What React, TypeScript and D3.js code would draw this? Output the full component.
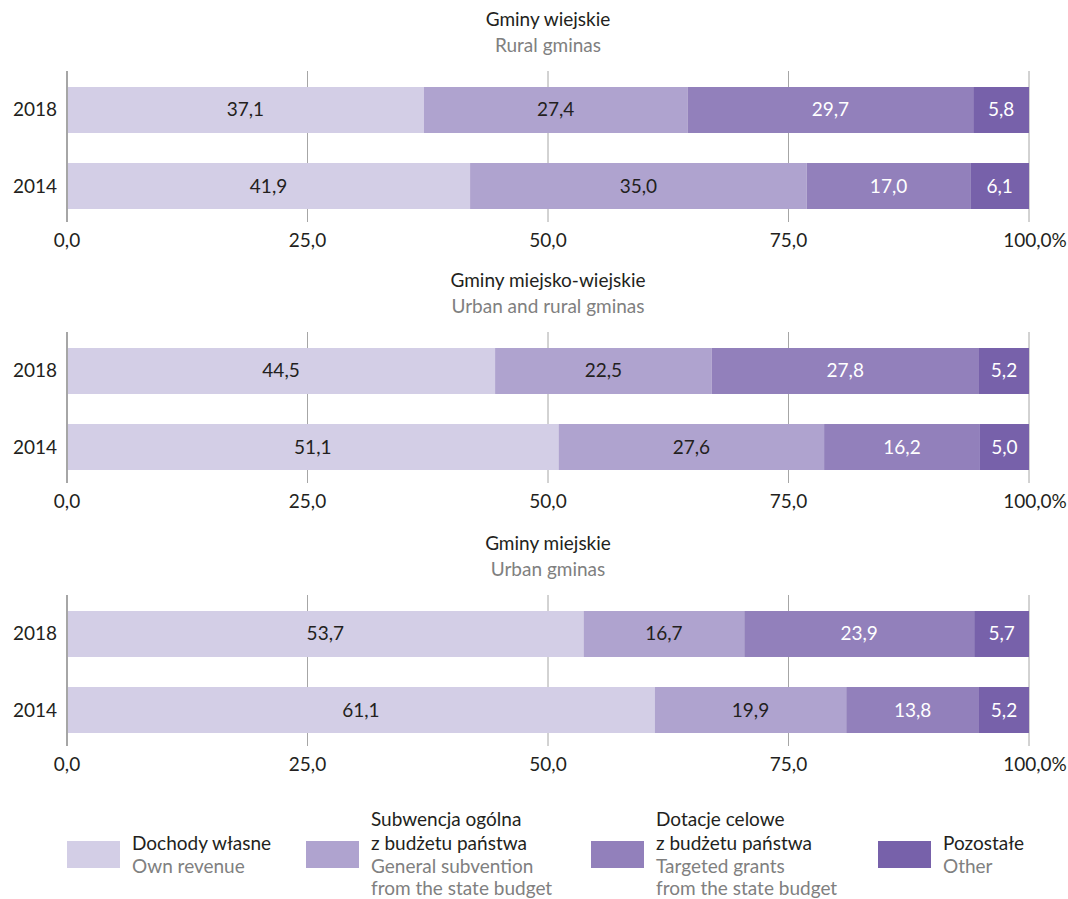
import React from "react";
import * as d3 from "d3";

if (typeof document !== "undefined") {
  document.body.style.margin = "0";
}

const panelTitles = ["Gminy wiejskie", "Gminy miejsko-wiejskie", "Gminy miejskie"];
const panelSubtitles = ["Rural gminas", "Urban and rural gminas", "Urban gminas"];
const years = ["2018", "2014"];
const seriesKeys = ["own", "general", "targeted", "other"];
const seriesPl = ["Dochody własne", "Subwencja ogólna\nz budżetu państwa", "Dotacje celowe\nz budżetu państwa", "Pozostałe"];
const seriesEn = ["Own revenue", "General subvention\nfrom the state budget", "Targeted grants\nfrom the state budget", "Other"];
const colors = ["#d3cee6", "#afa3cf", "#9280bb", "#7761aa"];
const textColors = ["#231f20", "#231f20", "#ffffff", "#ffffff"];

const ruralValues = [
  [37.1, 27.4, 29.7, 5.8],
  [41.9, 35.0, 17.0, 6.1],
];
const urbanRuralValues = [
  [44.5, 22.5, 27.8, 5.2],
  [51.1, 27.6, 16.2, 5.0],
];
const urbanValues = [
  [53.7, 16.7, 23.9, 5.7],
  [61.1, 19.9, 13.8, 5.2],
];
const panelsData = [ruralValues, urbanRuralValues, urbanValues];
const ticks = [0, 25, 50, 75, 100];
const tickLabels = ["0,0", "25,0", "50,0", "75,0", "100,0%"];

const FONT = "Lato, 'Open Sans', sans-serif";
const FS = 19;

export default function App() {
  const W = 1068, H = 899;
  const x = d3.scaleLinear().domain([0, 100]).range([67, 1029]);
  const panelTops = [0, 261, 524];
  const y = d3.scaleBand().domain(years).range([87, 209]).paddingInner(0.395).paddingOuter(0);
  const fmt = (v: number) => v.toFixed(1).replace(".", ",");

  return (
    <svg width={W} height={H} style={{ display: "block" }} fontFamily={FONT}>
      <rect width={W} height={H} fill="#fff" />
      {panelsData.map((rows, pi) => {
        const top = panelTops[pi];
        return (
          <g key={pi} transform={`translate(0,${top})`}>
            <text x={548} y={26} textAnchor="middle" fontSize={FS} fill="#231f20">{panelTitles[pi]}</text>
            <text x={548} y={52} textAnchor="middle" fontSize={FS} fill="#808080">{panelSubtitles[pi]}</text>
            {ticks.map((t, i) => (
              <line key={t} x1={x(t)} x2={x(t)} y1={71} y2={222} stroke={i === 0 ? "#888" : "#a6a6a6"} strokeWidth={i === 0 ? 1.5 : 1} />
            ))}
            {rows.map((vals, ri) => {
              const stack = d3.cumsum([0, ...vals]);
              const yy = y(years[ri])!;
              return (
                <g key={ri}>
                  <text x={57} y={yy + y.bandwidth() / 2 + 6.5} textAnchor="end" fontSize={FS} fill="#231f20">{years[ri]}</text>
                  {vals.map((v, si) => {
                    const x0 = x(stack[si]);
                    const x1 = si === vals.length - 1 ? x(100) : x(stack[si + 1]);
                    return (
                      <g key={si}>
                        <rect x={x0 + (si === 0 ? 1 : 0)} y={yy} width={x1 - x0 - (si === 0 ? 1 : 0)} height={y.bandwidth()} fill={colors[si]} />
                        <text x={(x0 + x1) / 2} y={yy + y.bandwidth() / 2 + 6.5} textAnchor="middle" fontSize={FS} fill={textColors[si]}>{fmt(v)}</text>
                      </g>
                    );
                  })}
                </g>
              );
            })}
            {ticks.map((t, i) => (
              <text key={t} x={x(t) + (i === ticks.length - 1 ? 6 : 0)} y={247} textAnchor="middle" fontSize={FS} fill="#231f20">{tickLabels[i]}</text>
            ))}
          </g>
        );
      })}
      {seriesKeys.map((k, i) => {
        const sx = [67, 306, 591, 878][i];
        const pl = seriesPl[i].split("\n");
        const en = seriesEn[i].split("\n");
        const startLine = pl.length === 2 ? 0 : 1;
        const baselines = [826, 849.5, 872.5, 895];
        return (
          <g key={k}>
            <rect x={sx} y={841} width={53} height={27} fill={colors[i]} />
            {pl.map((s, j) => (
              <text key={"p" + j} x={sx + 65} y={baselines[startLine + j]} fontSize={FS} fill="#231f20">{s}</text>
            ))}
            {en.map((s, j) => (
              <text key={"e" + j} x={sx + 65} y={baselines[startLine + pl.length + j]} fontSize={FS} fill="#808080">{s}</text>
            ))}
          </g>
        );
      })}
    </svg>
  );
}
